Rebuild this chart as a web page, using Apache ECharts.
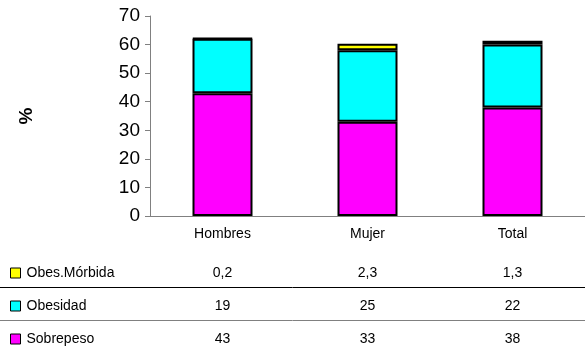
<!DOCTYPE html>
<html>
<head>
<meta charset="utf-8">
<script src="https://cdn.jsdelivr.net/npm/echarts@6/dist/echarts.min.js"></script>
<style>
  html, body { margin: 0; padding: 0; background: #fff; }
  #main { width: 585px; height: 353px; }
</style>
</head>
<body>
<div id="main"></div>
<script>
var categories = ['Hombres', 'Mujer', 'Total']
var sobrepeso = [43, 33, 38]
var obesidad = [19, 25, 22]
var obesMorbida = [0.2, 2.3, 1.3]
var yTicks = [0, 10, 20, 30, 40, 50, 60, 70]

var font = 'Liberation Sans, Arial, sans-serif'

function fmt (v) {
  return String(v).replace('.', ',')
}

// fila de la tabla de datos debajo de cada categoria
function tableAxis (values, offset) {
  return {
    type: 'category',
    data: values.map(fmt),
    position: 'bottom',
    offset: offset,
    axisLine: { show: false },
    axisTick: { show: false },
    axisLabel: { color: '#000', fontSize: 14, fontFamily: font, margin: 11 }
  }
}

// una leyenda por fila de la tabla
function rowLegend (name, top) {
  return {
    left: 5,
    top: top,
    itemWidth: 10,
    itemHeight: 10,
    icon: 'rect',
    data: [name],
    textStyle: { color: '#000', fontSize: 14, fontFamily: font, padding: [0, 0, 0, 1] },
    itemStyle: { borderColor: '#000', borderWidth: 1 }
  }
}

var myChart = echarts.init(document.getElementById('main'))
myChart.setOption({
  animation: false,
  grid: {
    left: 150,
    top: 16,
    width: 440,
    height: 200,
    containLabel: false
  },
  legend: [
    rowLegend('Obes.Mórbida', 261),
    rowLegend('Obesidad', 294),
    rowLegend('Sobrepeso', 327)
  ],
  xAxis: [
    {
      type: 'category',
      data: categories,
      axisLine: { lineStyle: { color: '#808080', width: 1 } },
      axisTick: { show: false },
      axisLabel: { color: '#000', fontSize: 14, fontFamily: font, margin: 11 }
    },
    tableAxis(obesMorbida, 39),
    tableAxis(obesidad, 72),
    tableAxis(sobrepeso, 105)
  ],
  yAxis: {
    type: 'value',
    min: yTicks[0],
    max: yTicks[yTicks.length - 1],
    interval: 10,
    name: '%',
    nameLocation: 'middle',
    nameGap: 114,
    nameTextStyle: { color: '#000', fontSize: 19, fontWeight: 'bold', fontFamily: font },
    axisLine: { show: true, lineStyle: { color: '#808080', width: 1 } },
    axisTick: { show: true, length: 5, lineStyle: { color: '#808080' } },
    axisLabel: { color: '#000', fontSize: 19, fontFamily: font, margin: 10 },
    splitLine: { show: false }
  },
  series: [
    {
      name: 'Sobrepeso',
      type: 'bar',
      stack: 'a',
      barWidth: 60,
      data: sobrepeso,
      itemStyle: { color: '#FF00FF', borderColor: '#000', borderWidth: 2 }
    },
    {
      name: 'Obesidad',
      type: 'bar',
      stack: 'a',
      barWidth: 60,
      data: obesidad,
      itemStyle: { color: '#00FFFF', borderColor: '#000', borderWidth: 2 }
    },
    {
      name: 'Obes.Mórbida',
      type: 'bar',
      stack: 'a',
      barWidth: 60,
      data: obesMorbida,
      itemStyle: { color: '#FFFF00', borderColor: '#000', borderWidth: 2 }
    }
  ],
  graphic: [
    {
      type: 'line',
      shape: { x1: 0, y1: 287.5, x2: 585, y2: 287.5 },
      style: { stroke: '#000', lineWidth: 1 }
    },
    {
      type: 'line',
      shape: { x1: 0, y1: 320.5, x2: 585, y2: 320.5 },
      style: { stroke: '#808080', lineWidth: 1 }
    }
  ]
})
</script>
</body>
</html>
